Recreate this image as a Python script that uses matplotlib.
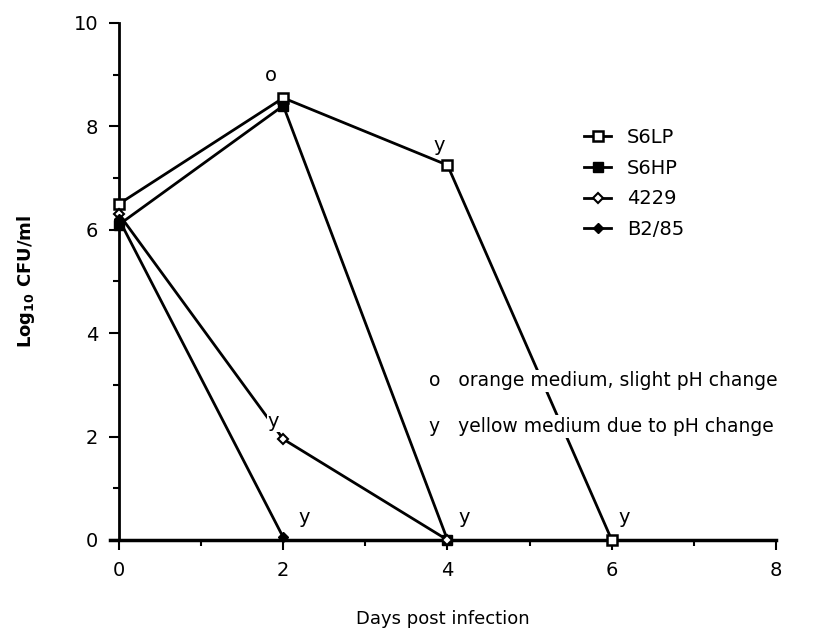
import numpy as np
import matplotlib.pyplot as plt

# days post infection and log10 CFU/ml per strain
s6lp_days = [0, 2, 4, 6]
s6lp_cfu = [6.5, 8.55, 7.25, 0.0]
s6hp_days = [0, 2, 4]
s6hp_cfu = [6.1, 8.4, 0.0]
d4229_days = [0, 2, 4]
d4229_cfu = [6.3, 1.95, 0.0]
b285_days = [0, 2]
b285_cfu = [6.2, 0.05]

# medium colour notes: (x, y, letter)
notes_x = [1.85, 3.9, 1.88, 2.25, 4.2, 6.15]
notes_y = [8.8, 7.45, 2.1, 0.25, 0.25, 0.25]
notes_txt = ['o', 'y', 'y', 'y', 'y', 'y']

fig = plt.figure(figsize=(8.37, 6.36), dpi=100)
ax = fig.add_axes([0.1314, 0.151, 0.7957, 0.8129])

ax.plot(s6lp_days, s6lp_cfu, color='black', lw=2, marker='s', ms=7,
        mfc='white', mec='black', mew=1.8, label='S6LP', clip_on=False, zorder=3)
ax.plot(s6hp_days, s6hp_cfu, color='black', lw=2, marker='s', ms=7,
        mfc='black', mec='black', label='S6HP', clip_on=False, zorder=3)
ax.plot(d4229_days, d4229_cfu, color='black', lw=2, marker='D', ms=5,
        mfc='white', mec='black', mew=1.5, label='4229', clip_on=False, zorder=3)
ax.plot(b285_days, b285_cfu, color='black', lw=2, marker='D', ms=5,
        mfc='black', mec='black', label='B2/85', clip_on=False, zorder=3)

for x, y, t in zip(notes_x, notes_y, notes_txt):
    ax.text(x, y, t, fontsize=14, ha='center', va='bottom', zorder=4,
            bbox=dict(boxstyle='square,pad=0.05', fc='white', ec='none'))

ax.set_xlim(-0.11, 8)
ax.set_ylim(0, 10)
ax.spines['right'].set_color('none')
ax.spines['top'].set_color('none')
ax.spines['left'].set_position(('data', 0))
ax.spines['left'].set_linewidth(2)
ax.spines['bottom'].set_linewidth(2.5)
ax.set_xticks([0, 2, 4, 6, 8])
ax.set_xticks([1, 3, 5, 7], minor=True)
ax.set_yticks([0, 2, 4, 6, 8, 10])
ax.set_yticks([1, 3, 5, 7, 9], minor=True)
ax.tick_params(which='major', direction='out', length=7, width=1.5,
               labelsize=14, pad=8)
ax.tick_params(which='minor', direction='out', length=4, width=1.5)

ax.set_xlabel('Days post infection', fontsize=13, labelpad=22)
ax.set_ylabel(r'Log$_{\mathbf{10}}$ CFU/ml', fontsize=13, fontweight='bold')
ax.yaxis.set_label_coords(-0.11, 0.5)

ax.legend(loc='upper left', bbox_to_anchor=(0.677, 0.826),
          bbox_transform=fig.transFigure, frameon=False, fontsize=14,
          handlelength=1.4, handletextpad=0.8, labelspacing=0.6)

note_box = dict(boxstyle='square,pad=0.1', fc='white', ec='none')
fig.text(0.513, 0.401, 'o   orange medium, slight pH change', fontsize=13.5,
         va='center', bbox=note_box)
fig.text(0.513, 0.329, 'y   yellow medium due to pH change', fontsize=13.5,
         va='center', bbox=note_box)

fig.savefig('out.png', dpi=100)
